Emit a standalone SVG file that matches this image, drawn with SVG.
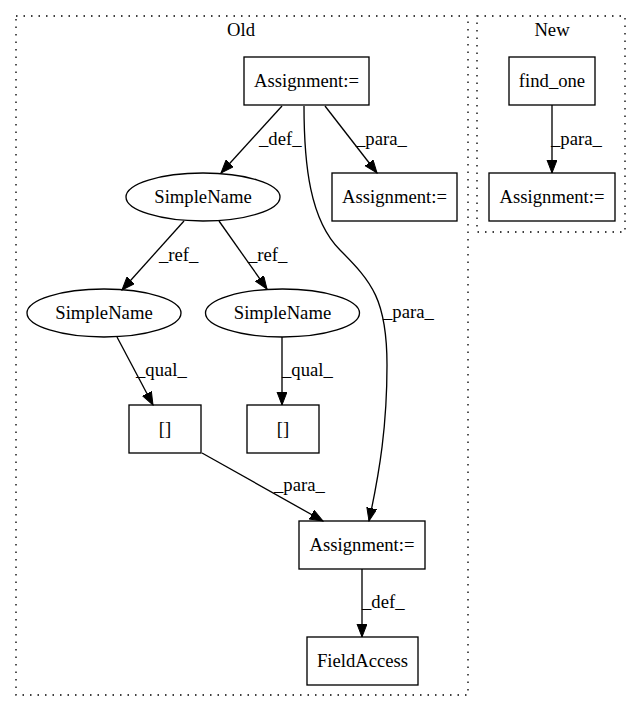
<svg xmlns="http://www.w3.org/2000/svg" width="641" height="712" viewBox="0 0 641 712" font-family="'Liberation Serif', 'Times New Roman', Times, serif" font-size="18.67">
<style>
text{font-family:'Liberation Serif','Times New Roman',Times,serif;font-size:18.67px;fill:#000;}
.n{text-anchor:middle;}
.node rect,.node ellipse{fill:none;stroke:#000;stroke-width:1.33;}
.cl{fill:none;stroke:#000;stroke-width:1.33;stroke-dasharray:1.5,6;}
.e{fill:none;stroke:#000;stroke-width:1.33;marker-end:url(#ah);}
</style>
<defs>
<marker id="ah" markerUnits="userSpaceOnUse" markerWidth="14" markerHeight="11" refX="13" refY="5" orient="auto">
<path d="M0,0 L13,5 L0,10 z" fill="#000" stroke="#000" stroke-width="1"/>
</marker>
</defs>
<rect width="641" height="712" fill="#fff"/>
<g id="cluster_old">
<rect class="cl" x="16" y="16" width="452" height="679"/>
<text class="n" x="241" y="36">Old</text>
</g>
<g id="cluster_new">
<rect class="cl" x="477" y="16" width="148" height="216"/>
<text class="n" x="552" y="36">New</text>
</g>
<g id="edges">
<path class="e" d="M282,106 L221,173"/>
<text x="259" y="145">_def_</text>
<path class="e" d="M325,106 L377,173"/>
<text x="356" y="145">_para_</text>
<path class="e" d="M304,106 C304,165 310,220 340,250 C372,282 387,300 387,365 C387,425 380,470 369,521"/>
<text x="383" y="318">_para_</text>
<path class="e" d="M184,221 L122,290"/>
<text x="159" y="261">_ref_</text>
<path class="e" d="M219,221 L267,289"/>
<text x="248" y="261">_ref_</text>
<path class="e" d="M117,337 L153,405"/>
<text x="136" y="376">_qual_</text>
<path class="e" d="M282,337 L282,405"/>
<text x="282" y="376">_qual_</text>
<path class="e" d="M202,453 L323,521"/>
<text x="274" y="491">_para_</text>
<path class="e" d="M362,569 L362,637"/>
<text x="362" y="608">_def_</text>
<path class="e" d="M552,105 L552,173"/>
<text x="551" y="145">_para_</text>
</g>
<g id="nodes">
<g id="n_assign_top" class="node">
<rect x="244" y="57" width="125" height="48"/>
<text class="n" x="306.5" y="87">Assignment:=</text>
</g>
<g id="n_simplename_top" class="node">
<ellipse cx="203" cy="197" rx="77" ry="24"/>
<text class="n" x="203" y="203">SimpleName</text>
</g>
<g id="n_assign_right" class="node">
<rect x="332" y="173" width="125" height="48"/>
<text class="n" x="394.5" y="203">Assignment:=</text>
</g>
<g id="n_simplename_left" class="node">
<ellipse cx="104" cy="313" rx="77" ry="24"/>
<text class="n" x="104" y="319">SimpleName</text>
</g>
<g id="n_simplename_right" class="node">
<ellipse cx="282.5" cy="313" rx="77" ry="24"/>
<text class="n" x="282.5" y="319">SimpleName</text>
</g>
<g id="n_idx_left" class="node">
<rect x="129" y="405" width="72" height="48"/>
<text class="n" x="165" y="435">[]</text>
</g>
<g id="n_idx_right" class="node">
<rect x="247" y="405" width="72" height="48"/>
<text class="n" x="283" y="435">[]</text>
</g>
<g id="n_assign_bottom" class="node">
<rect x="299" y="521" width="126" height="48"/>
<text class="n" x="362" y="551">Assignment:=</text>
</g>
<g id="n_fieldaccess" class="node">
<rect x="307" y="637" width="111" height="48"/>
<text class="n" x="362.5" y="667">FieldAccess</text>
</g>
<g id="n_find_one" class="node">
<rect x="509" y="57" width="86" height="48"/>
<text class="n" x="552" y="87">find_one</text>
</g>
<g id="n_assign_new" class="node">
<rect x="489" y="173" width="126" height="48"/>
<text class="n" x="552" y="203">Assignment:=</text>
</g>
</g>
</svg>
